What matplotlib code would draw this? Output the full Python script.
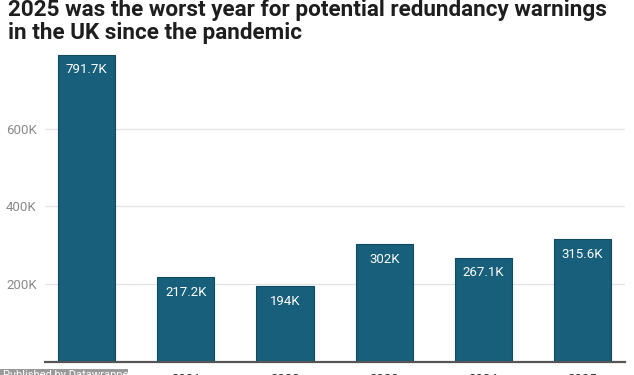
import numpy as np
import matplotlib.pyplot as plt
from matplotlib.patches import Rectangle

# data
years = ['2020', '2021', '2022', '2023', '2024', '2025']
warnings_k = [791.7, 217.2, 194, 302, 267.1, 315.6]
bar_labels = ['791.7K', '217.2K', '194K', '302K', '267.1K', '315.6K']
yticks = [200, 400, 600]
ytick_labels = ['200K', '400K', '600K']
title_lines = ['2025 was the worst year for potential redundancy warnings',
               'in the UK since the pandemic']

plt.rcParams['font.family'] = ['Roboto', 'DejaVu Sans']

W, H = 634, 375
fig = plt.figure(figsize=(W / 100, H / 100), dpi=100)
ax = fig.add_axes([0.071, 0.036, 0.915, 0.831])

x = np.arange(len(years))
bars = ax.bar(x, warnings_k, width=0.575, color='#175f7b', edgecolor='#0f4a60',
              linewidth=0.8, zorder=3)

for b, lab in zip(bars, bar_labels):
    ax.annotate(lab, (b.get_x() + b.get_width() / 2, b.get_height()),
                xytext=(0, -6), textcoords='offset points', ha='center', va='top',
                color='white', fontsize=9.5, zorder=4)

ax.set_xlim(-0.42, 5.43)
ax.set_ylim(0, 804)
ax.set_yticks(yticks)
ax.set_yticklabels(ytick_labels)
ax.set_xticks(x)
ax.set_xticklabels(years)
ax.tick_params(axis='y', length=0, pad=6, labelsize=9.5, labelcolor='#8a8a8a')
ax.tick_params(axis='x', length=0, pad=8, labelsize=9.5, labelcolor='#333333')
ax.grid(axis='y', color='#e2e2e2', linewidth=0.9, zorder=0)
for s in ['top', 'right', 'left']:
    ax.spines[s].set_visible(False)
ax.spines['bottom'].set_color('#555555')
ax.spines['bottom'].set_linewidth(1.6)
ax.spines['bottom'].set_zorder(5)

# title, two lines placed on their baselines
for line, base_px in zip(title_lines, [16, 39]):
    fig.text(8 / W, 1 - base_px / H, line, ha='left', va='baseline',
             fontsize=16.2, fontweight='bold', color='#1e1e1e')

# grey overlay strip at bottom left
fig.patches.append(Rectangle((0, 0), 0.202, 0.017, transform=fig.transFigure,
                             facecolor='#9a9a9a', edgecolor='none', zorder=10))
fig.text(0.005, -0.012, 'Published by Datawrapper', ha='left', va='bottom',
         fontsize=8, color='white', zorder=11)

fig.savefig('out.png', dpi=100)
